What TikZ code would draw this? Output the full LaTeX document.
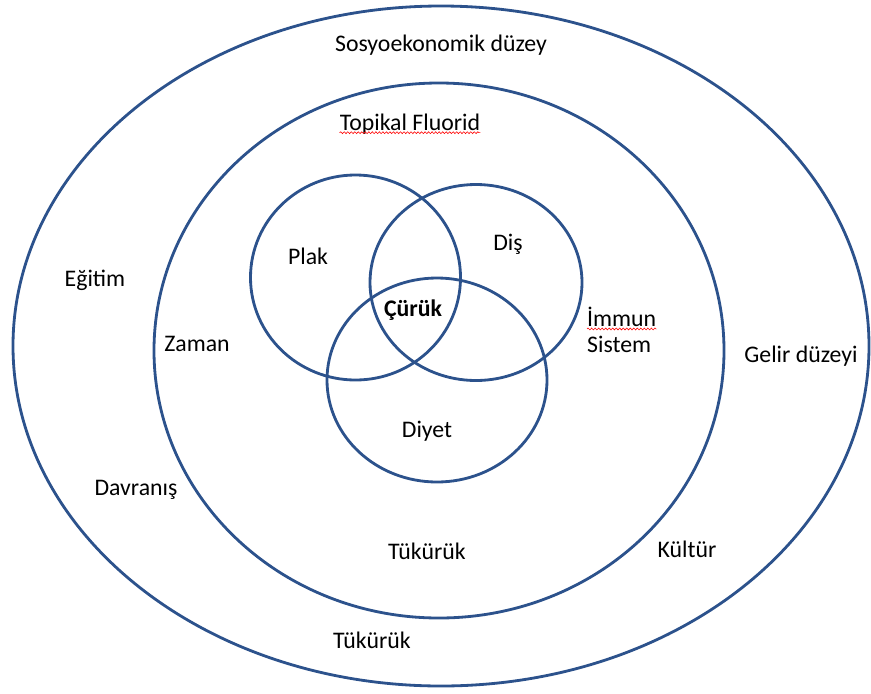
\documentclass[tikz,border=0pt]{standalone}
\usepackage{fontspec}
\setmainfont{Carlito}
\usetikzlibrary{decorations.pathmorphing}
\definecolor{ringblue}{RGB}{44,82,140}

\begin{document}
\begin{tikzpicture}[x=0.03cm, y=-0.03cm,
  ring/.style={draw=ringblue, line width=2.4pt},
  lbl/.style={font=\fontsize{20.3}{24}\selectfont, inner sep=0pt},
  spell/.style={draw=red, line width=0.5pt, decorate,
    decoration={snake, amplitude=0.8pt, segment length=3pt}}]
  \useasboundingbox (0,0) rectangle (871,693);
  % rings
  \draw[ring] (441,346) ellipse (428 and 340);
  \draw[ring] (439,350.5) ellipse (285 and 267.5);
  % venn
  \draw[ring] (355.5,277.5) ellipse (105 and 102.5);
  \draw[ring] (476,282.5) ellipse (106 and 98);
  \draw[ring] (437,380) ellipse (110 and 102);
  % labels
  \node[lbl] (sosyo) at (441,45) {Sosyoekonomik düzey};
  \node[lbl] (topikal) at (410,124) {Topikal Fluorid};
  \node[lbl] (plak) at (308,256) {Plak};
  \node[lbl] (dis) at (508,244) {Diş};
  \node[lbl, font=\fontsize{20.3}{24}\selectfont\bfseries] (curuk) at (413,310) {Çürük};
  \node[lbl, anchor=west] (immun) at (587,317) {İmmun};
  \node[lbl, anchor=west] (sistem) at (587,344) {Sistem};
  \node[lbl] (egitim) at (95,280) {Eğitim};
  \node[lbl] (zaman) at (197,344) {Zaman};
  \node[lbl] (gelir) at (801,356) {Gelir düzeyi};
  \node[lbl] (diyet) at (427,431) {Diyet};
  \node[lbl] (davranis) at (136,490) {Davranış};
  \node[lbl] (tukuruk1) at (427,551) {Tükürük};
  \node[lbl] (kultur) at (687,549) {Kültür};
  \node[lbl] (tukuruk2) at (372,640) {Tükürük};
  % spell check marks
  \draw[spell] ([yshift=-2pt]topikal.base west) -- ([yshift=-2pt]topikal.base east);
  \draw[spell] ([yshift=-2pt]immun.base west) -- ([yshift=-2pt]immun.base east);
\end{tikzpicture}
\end{document}
